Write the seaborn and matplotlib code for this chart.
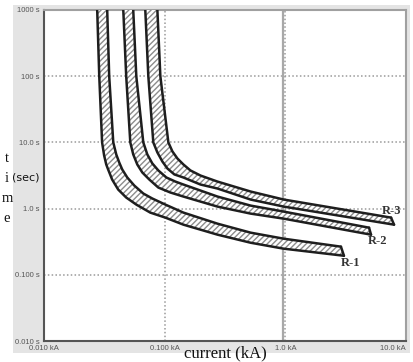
import numpy as np
import pandas as pd
import matplotlib
matplotlib.use("Agg")
import matplotlib.pyplot as plt
import seaborn as sb
from matplotlib.patches import Rectangle

# relay curves: fast (lower-left) edge and slow (upper-right) edge, current in kA, time in s
r1_lo_kA = [0.0276, 0.0287, 0.0303, 0.0315, 0.0328, 0.0340, 0.0367, 0.0412, 0.0480, 0.0582, 0.0760, 0.1013, 0.143, 0.274, 0.516, 0.970, 3.06]
r1_lo_s = [1000, 100, 10, 6.35, 4.64, 3.90, 2.75, 1.94, 1.47, 1.15, 0.870, 0.731, 0.572, 0.404, 0.305, 0.248, 0.194]
r1_hi_kA = [0.0334, 0.0347, 0.0375, 0.0397, 0.0420, 0.0445, 0.0490, 0.0560, 0.0665, 0.0790, 0.1013, 0.143, 0.274, 0.516, 0.970, 2.89]
r1_hi_s = [1000, 100, 10, 6.58, 4.98, 3.90, 2.95, 2.23, 1.69, 1.42, 1.15, 0.870, 0.592, 0.433, 0.351, 0.266]

r2_lo_kA = [0.0454, 0.0480, 0.0519, 0.0549, 0.0593, 0.0653, 0.0746, 0.0886, 0.1115, 0.143, 0.274, 0.516, 0.970, 5.13]
r2_lo_s = [1000, 100, 10, 6.58, 4.64, 3.51, 2.75, 2.08, 1.75, 1.52, 1.072, 0.840, 0.705, 0.404]
r2_hi_kA = [0.0549, 0.0582, 0.0665, 0.0718, 0.0790, 0.0886, 0.1033, 0.1227, 0.143, 0.198, 0.274, 0.516, 0.970, 4.94]
r2_hi_s = [1000, 100, 10, 6.58, 4.81, 3.77, 2.95, 2.56, 2.31, 1.874, 1.52, 1.11, 0.901, 0.515]

r3_lo_kA = [0.0691, 0.0732, 0.0805, 0.0870, 0.0957, 0.1053, 0.1204, 0.143, 0.198, 0.274, 0.516, 0.970, 7.96]
r3_lo_s = [1000, 100, 10, 7.06, 5.15, 4.04, 3.28, 2.95, 2.31, 2.01, 1.369, 1.072, 0.572]
r3_hi_kA = [0.0870, 0.0921, 0.1073, 0.1159, 0.1275, 0.143, 0.1635, 0.198, 0.274, 0.516, 0.970, 7.52]
r3_hi_s = [1000, 100, 10, 7.31, 5.72, 4.64, 3.77, 3.16, 2.56, 1.81, 1.37, 0.731]

names = ["R-1", "R-2", "R-3"]
label_kA = [3.50, 5.86, 7.52]
label_s = [0.152, 0.327, 0.93]

x_ticks = [0.01, 0.1, 1.0, 10.0]
x_ticklabels = ["0.010 kA", "0.100 kA", "1.0 kA", "10.0 kA"]
y_ticks = [0.01, 0.1, 1, 10, 100, 1000]
y_ticklabels = ["0.010 s", "0.100 s", "1.0 s", "10.0 s", "100 s", "1000 s"]
marker_kA = 0.95

sb.set_style("white")
plt.rcParams["hatch.linewidth"] = 1.0

fig = plt.figure(figsize=(4.14, 3.62), dpi=100)
fig.patches.append(Rectangle((13 / 414, 9 / 362), 397 / 414, 348 / 362,
                             transform=fig.transFigure, facecolor="#e4e4e4",
                             edgecolor="none", zorder=0))
ax = fig.add_axes([44 / 414, 21 / 362, 362 / 414, 331 / 362])
ax.set_zorder(2)
ax.set_facecolor("white")
ax.set_xscale("log")
ax.set_yscale("log")
ax.set_xlim(0.01, 10)
ax.set_ylim(0.01, 1000)

curves = [(r1_lo_kA, r1_lo_s, r1_hi_kA, r1_hi_s),
          (r2_lo_kA, r2_lo_s, r2_hi_kA, r2_hi_s),
          (r3_lo_kA, r3_lo_s, r3_hi_kA, r3_hi_s)]

for lo_x, lo_y, hi_x, hi_y in curves:
    px = list(lo_x) + list(hi_x[::-1])
    py = list(lo_y) + list(hi_y[::-1])
    ax.fill(px, py, facecolor="white", edgecolor="#8c8c8c", hatch="//////",
            linewidth=0, zorder=3)
    for xs, ys in [(lo_x, lo_y), (hi_x, hi_y)]:
        df = pd.DataFrame({"kA": xs, "s": ys})
        sb.lineplot(data=df, x="kA", y="s", sort=False, estimator=None,
                    color="#1e1e1e", linewidth=1.8, ax=ax, zorder=4)
    ax.plot([lo_x[-1], hi_x[-1]], [lo_y[-1], hi_y[-1]], color="#1e1e1e",
            linewidth=1.8, zorder=4)

for name, lx, ly in zip(names, label_kA, label_s):
    ax.text(lx, ly, name, fontsize=9, fontweight="bold", family="Liberation Serif",
            color="#333333", ha="center", va="center", zorder=5)

# grid
for v in x_ticks[1:-1]:
    ax.axvline(v, color="#9a9a9a", linestyle=(0, (1, 1.5)), linewidth=1.1, zorder=1)
for v in y_ticks[1:-1]:
    ax.axhline(v, color="#9a9a9a", linestyle=(0, (1, 1.5)), linewidth=1.1, zorder=1)
ax.axvline(marker_kA, color="#a8a8a8", linewidth=1.6, zorder=1)

ax.set_xticks(x_ticks)
ax.set_xticklabels(x_ticklabels)
ax.set_yticks(y_ticks)
ax.set_yticklabels(y_ticklabels)
ax.minorticks_off()
ax.tick_params(length=0, labelsize=5.5, labelcolor="#555555", pad=3)
for lab in ax.get_xticklabels() + ax.get_yticklabels():
    lab.set_family("Liberation Sans")
ax.get_xticklabels()[-1].set_ha("right")

for side in ["left", "bottom"]:
    ax.spines[side].set_color("#555555")
    ax.spines[side].set_linewidth(1.5)
for side in ["top", "right"]:
    ax.spines[side].set_color("#a0a0a0")
    ax.spines[side].set_linewidth(1.5)

ax.set_xlabel("")
ax.set_ylabel("")

# axis titles
fig.text(225 / 414, 1 - 361 / 362, "current (kA)", family="Liberation Serif",
         fontsize=12, ha="center", va="bottom", color="#111111")
for letter, yy in zip("time", [158, 179, 199, 219]):
    fig.text(7 / 414, 1 - yy / 362, letter, family="Liberation Serif", fontsize=10.5,
             ha="center", va="center", color="#111111")
fig.text(26 / 414, 1 - 178 / 362, "(sec)", family="DejaVu Sans", fontsize=8,
         ha="center", va="center", color="#111111")

fig.savefig("out.png", dpi=100)
